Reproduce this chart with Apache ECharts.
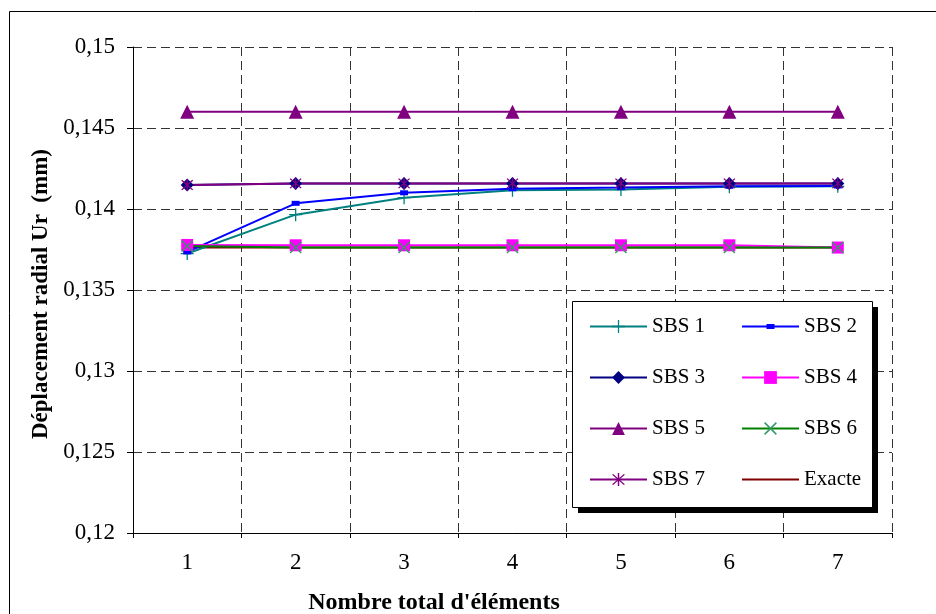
<!DOCTYPE html>
<html>
<head>
<meta charset="utf-8">
<script src="https://cdn.jsdelivr.net/npm/echarts@6/dist/echarts.min.js"></script>
<style>
  html, body { margin: 0; padding: 0; background: #fff; }
  #chart { width: 936px; height: 614px; }
</style>
</head>
<body>
<div id="chart"></div>
<script>
// Number of elements (x categories)
const categories = ['1', '2', '3', '4', '5', '6', '7'];

// Radial displacement Ur (mm) for each scheme
const sbs1 = [0.13725, 0.13965, 0.14070, 0.14115, 0.14120, 0.14137, 0.14140];
const sbs2 = [0.13735, 0.14035, 0.14100, 0.14125, 0.14132, 0.14140, 0.14142];
const sbs3 = [0.14148, 0.14158, 0.14158, 0.14158, 0.14158, 0.14158, 0.14158];
const sbs4 = [0.13778, 0.13776, 0.13776, 0.13776, 0.13776, 0.13776, 0.13762];
const sbs5 = [0.14600, 0.14600, 0.14600, 0.14600, 0.14600, 0.14600, 0.14600];
const sbs6 = [0.13772, 0.13762, 0.13762, 0.13762, 0.13762, 0.13762, 0.13762];
const sbs7 = [0.14148, 0.14158, 0.14158, 0.14158, 0.14158, 0.14158, 0.14158];
const exacte = [0.13762, 0.13762, 0.13762, 0.13762, 0.13762, 0.13762, 0.13762];

// Y axis ticks and their French-formatted labels
const yTicks = [0.12, 0.125, 0.13, 0.135, 0.14, 0.145, 0.15];
const yTickLabels = ['0,12', '0,125', '0,13', '0,135', '0,14', '0,145', '0,15'];

const SERIF = '"Liberation Serif", "Times New Roman", serif';

// Stroke-like marker shapes built from thin bars
const PLUS = 'path://M9,0h2v20h-2z M0,9h20v2h-20z';
const CROSS = 'path://M1.3,2.7L2.7,1.3L18.7,17.3L17.3,18.7Z M17.3,1.3L18.7,2.7L2.7,18.7L1.3,17.3Z';
const STAR = 'path://M9,0h2v20h-2z M1.3,2.7L2.7,1.3L18.7,17.3L17.3,18.7Z M17.3,1.3L18.7,2.7L2.7,18.7L1.3,17.3Z';

// Legend icons (57 x 14 box): plain line, and line with a small dash marker
const ICON_LINE = 'path://M0,0L0.01,0L0,0.01Z M0,6h57v2h-57z M57,14L56.99,14L57,13.99Z';
const ICON_DASH = 'path://M0,0L0.01,0L0,0.01Z M0,6h57v2h-57z M24.5,4.5h8v5h-8z M57,14L56.99,14L57,13.99Z';

function lineSeries(name, data, color, symbol, size, markerColor, z) {
  return {
    name: name,
    type: 'line',
    data: data,
    z: z || 2,
    symbol: symbol,
    symbolSize: size,
    showAllSymbol: true,
    animation: false,
    lineStyle: { color: color, width: 2 },
    itemStyle: { color: markerColor || color, borderWidth: 0 },
    emphasis: { disabled: true }
  };
}

const chart = echarts.init(document.getElementById('chart'), null, { renderer: 'canvas' });

const legendText = { fontFamily: SERIF, fontSize: 21, color: '#000' };

chart.setOption({
  backgroundColor: '#fff',
  animation: false,
  grid: { left: 133, right: 44, top: 47, bottom: 81, containLabel: false },
  xAxis: {
    type: 'category',
    data: categories,
    boundaryGap: true,
    axisLine: { lineStyle: { color: '#000', width: 1 } },
    axisTick: { show: true, length: 5, lineStyle: { color: '#000' } },
    axisLabel: { fontFamily: SERIF, fontSize: 23, color: '#000', margin: 18 },
    splitLine: { show: true, lineStyle: { color: '#333', type: [9, 5], width: 1 } }
  },
  yAxis: {
    type: 'value',
    min: 0.12,
    max: 0.15,
    interval: 0.005,
    axisLine: { show: true, lineStyle: { color: '#000', width: 1 } },
    axisTick: { show: true, length: 6, lineStyle: { color: '#000' } },
    axisLabel: {
      fontFamily: SERIF, fontSize: 23, color: '#000', margin: 18,
      formatter: function (v) {
        let best = 0;
        for (let i = 1; i < yTicks.length; i++) {
          if (Math.abs(yTicks[i] - v) < Math.abs(yTicks[best] - v)) best = i;
        }
        return yTickLabels[best];
      }
    },
    splitLine: { show: true, lineStyle: { color: '#333', type: [9, 5], width: 1 } }
  },
  legend: [
    {
      orient: 'vertical', left: 584, top: 311, itemWidth: 57, itemHeight: 16, itemGap: 30,
      textStyle: legendText, selectedMode: false,
      data: ['SBS 1', 'SBS 3', 'SBS 5', 'SBS 7']
    },
    {
      orient: 'vertical', left: 736, top: 311, itemWidth: 57, itemHeight: 16, itemGap: 30,
      textStyle: legendText, selectedMode: false,
      data: [
        { name: 'SBS 2', icon: ICON_DASH },
        'SBS 4',
        'SBS 6',
        { name: 'Exacte', icon: ICON_LINE }
      ]
    }
  ],
  graphic: [
    // chart frame
    { type: 'rect', silent: true, z: -1, shape: { x: 9.5, y: 11.5, width: 940, height: 620 },
      style: { fill: 'none', stroke: '#000', lineWidth: 1 } },
    // legend panel with drop shadow
    { type: 'rect', silent: true, z: 3, shape: { x: 578, y: 307, width: 300, height: 206 },
      style: { fill: '#000' } },
    { type: 'rect', silent: true, z: 3, shape: { x: 572.5, y: 301.5, width: 300, height: 206 },
      style: { fill: '#fff', stroke: '#000', lineWidth: 1 } },
    // axis titles
    { type: 'text', silent: true, z: 3, x: 434, y: 603,
      style: { text: "Nombre total d'éléments", fontFamily: SERIF, fontSize: 24, fontWeight: 'bold',
               fill: '#000', align: 'center', verticalAlign: 'middle' } },
    { type: 'text', silent: true, z: 3, x: 41, y: 294, rotation: Math.PI / 2,
      style: { text: 'Déplacement radial Ur  (mm)', fontFamily: SERIF, fontSize: 23, fontWeight: 'bold',
               fill: '#000', align: 'center', verticalAlign: 'middle' } }
  ],
  series: [
    lineSeries('Exacte', exacte, '#800000', 'none', 0, null, 1),
    lineSeries('SBS 1', sbs1, '#008080', PLUS, 13),
    lineSeries('SBS 2', sbs2, '#0000ff', 'rect', [8, 5]),
    lineSeries('SBS 3', sbs3, '#000080', 'diamond', 13),
    lineSeries('SBS 4', sbs4, '#ff00ff', 'rect', 12),
    lineSeries('SBS 5', sbs5, '#800080', 'triangle', 14),
    lineSeries('SBS 6', sbs6, '#008000', CROSS, 12, '#339966'),
    lineSeries('SBS 7', sbs7, '#800080', STAR, 12)
  ]
});
</script>
</body>
</html>
